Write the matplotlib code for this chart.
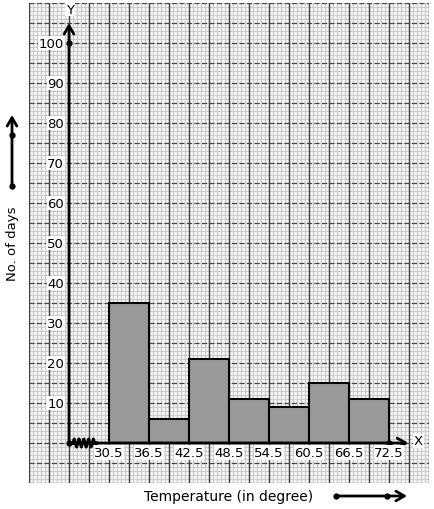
import numpy as np
import matplotlib.pyplot as plt

bin_edges = [30.5, 36.5, 42.5, 48.5, 54.5, 60.5, 66.5, 72.5]
days = [35, 6, 21, 11, 9, 15, 11]
y_ticks = [10, 20, 30, 40, 50, 60, 70, 80, 90, 100]
x_label = "Temperature (in degree)"
y_label = "No. of days"

W, H = 434, 510
fig = plt.figure(figsize=(W / 100, H / 100), dpi=100)
ax = fig.add_axes([29 / W, 26 / H, 400 / W, 480 / H])

x0 = 24.5  # where the y axis sits
ax.set_xlim(18.5, 78.5)
ax.set_ylim(-10, 110)

# graph paper
for v in np.arange(18.5, 78.6, 0.6):
    ax.axvline(v, color="#cccccc", lw=1.0, zorder=0)
for v in np.arange(-10, 110.1, 1):
    ax.axhline(v, color="#cccccc", lw=1.0, zorder=0)
for v in np.arange(18.5, 78.6, 3):
    ax.axvline(v, color="#404040", lw=1.0, zorder=1)
for v in np.arange(-10, 110.1, 5):
    ax.axhline(v, color="#484848", lw=0.9, ls=(0, (4, 2)), zorder=1)

ax.set_xticks([])
ax.set_yticks([])
for s in ax.spines.values():
    s.set_visible(False)

# histogram
widths = np.diff(bin_edges)
ax.bar(bin_edges[:-1], days, width=widths, align="edge", color="#999999",
       edgecolor="black", linewidth=1.5, zorder=3)

# axes with arrows
head = "->,head_length=0.6,head_width=0.35"
ax.annotate("", xy=(x0, 105), xytext=(x0, 0),
            arrowprops=dict(arrowstyle=head, lw=2, color="black",
                            shrinkA=0, shrinkB=0), zorder=5)
ax.plot([x0, 25.1], [0, 0], color="black", lw=2, zorder=5)
zx = np.linspace(25.1, 28.7, 21)
zy = np.array([0, 1.0, 0, -1.0] * 5 + [0])
ax.plot(zx, zy, color="black", lw=2.2, zorder=5)
ax.annotate("", xy=(75.4, 0), xytext=(28.7, 0),
            arrowprops=dict(arrowstyle=head, lw=2, color="black",
                            shrinkA=0, shrinkB=0), zorder=5)
ax.plot([x0, x0, bin_edges[-1]], [0, 100, 0], "o", color="black", ms=3.5, zorder=6)

box = dict(facecolor="white", edgecolor="none", pad=0.5)
ax.text(x0 + 0.15, 108.5, "Y", ha="center", va="center", fontsize=9.5, bbox=box, zorder=6)
ax.text(76.9, 0.5, "X", ha="center", va="center", fontsize=9.5, bbox=box, zorder=6)
for t in y_ticks:
    ax.text(x0 - 0.75, t, str(t), ha="right", va="center", fontsize=9.5,
            bbox=box, zorder=6)
for e in bin_edges:
    ax.text(e, -2.4, str(e), ha="center", va="center", fontsize=9.5,
            bbox=box, zorder=6)

# outside labels with arrows (figure pixel coordinates)
def px(x, y):
    return (x / W, 1 - y / H)

fig.text(*px(13, 244), y_label, rotation=90, ha="center", va="center", fontsize=9.5)
fig.text(*px(229, 497), x_label, ha="center", va="center", fontsize=10)

ann = dict(xycoords="figure fraction", textcoords="figure fraction",
           arrowprops=dict(arrowstyle=head, lw=2, color="black",
                           shrinkA=0, shrinkB=0))
fig.add_artist(plt.Line2D([12 / W, 12 / W], [1 - 186.5 / H, 1 - 136 / H], ls="",
                          marker="o", ms=3.5, color="black"))
ax.annotate("", xy=px(12, 116), xytext=px(12, 186.5), **ann)
ax.annotate("", xy=px(407, 497), xytext=px(336, 497), **ann)
fig.add_artist(plt.Line2D([336 / W, 387 / W], [1 - 497 / H, 1 - 497 / H], ls="",
                          marker="o", ms=3.5, color="black"))

fig.savefig("out.png", dpi=100)
